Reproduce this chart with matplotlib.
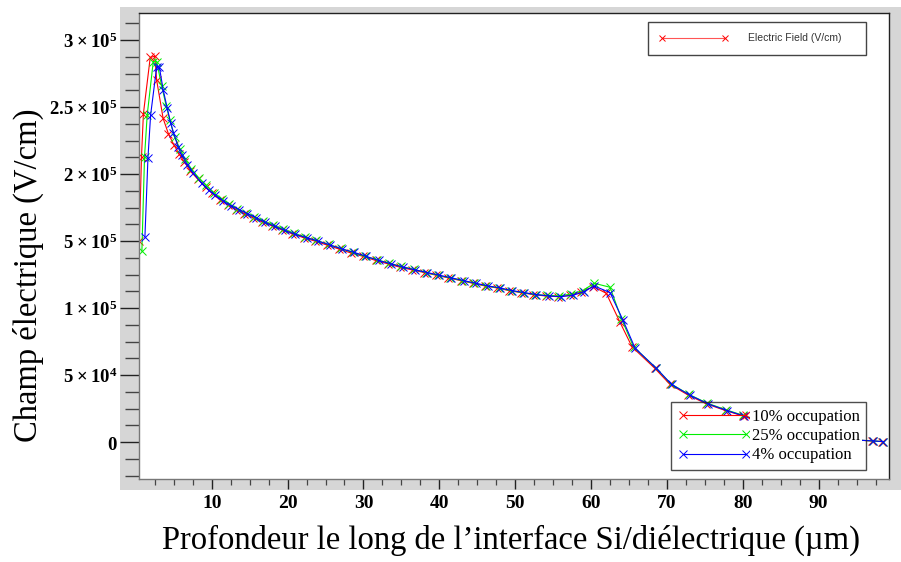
import matplotlib
matplotlib.use('Agg')
import numpy as np
import matplotlib.pyplot as plt
from matplotlib.patches import Rectangle
from matplotlib.lines import Line2D
from matplotlib.ticker import FixedLocator, FixedFormatter, MultipleLocator

# Electric field (V/cm) along the Si/dielectric interface (values in kV/cm)
x_10 = [0.45, 0.75, 1.0, 1.9, 2.5, 2.75, 3.6, 4.3, 5.0, 5.7, 6.4, 7.2, 8.2, 9.2, 10.1,
        11.1, 12.1, 13.2, 14.3, 15.4, 16.6, 17.9, 19.2, 20.6, 22.1, 23.6, 25.2, 26.8, 28.4, 30.0,
        31.6, 33.2, 34.8, 36.4, 38.0, 39.6, 41.2, 42.8, 44.4, 46.0, 47.6, 49.2, 50.8, 52.4, 54.0,
        55.6, 57.2, 58.7, 60.3, 62.0, 63.8, 65.4, 68.4, 70.4, 72.8, 75.2, 77.7, 80.0, 82.4, 84.9,
        87.4, 89.9, 92.4, 94.9, 97.0, 98.4]
E_10 = [150, 213, 245, 287, 288, 270, 241.5, 230, 222, 215, 209, 202.5, 196, 190, 185.5,
        181, 177, 173.5, 170.5, 167.5, 164.5, 161.5, 158.5, 155.5, 152.5, 150, 147, 144, 141, 138.5,
        135.5, 133, 130.5, 128.5, 126.5, 124.5, 122.5, 120.5, 118.5, 116.5, 115, 113, 111.5, 110, 109,
        108.5, 109.5, 112, 116, 111, 89.5, 71, 55, 43, 35, 28.5, 23.5, 19.5, 15, 11,
        7.5, 5, 3, 1.5, 0.8, 0.3]

x_25 = [0.8, 1.15, 1.5, 2.3, 2.75, 3.4, 4.0, 4.5, 5.1, 5.8, 6.5, 7.3, 8.3, 9.3, 10.3,
        11.3, 12.3, 13.4, 14.5, 15.6, 16.8, 18.1, 19.4, 20.8, 22.3, 23.8, 25.4, 27.0, 28.6, 30.2,
        31.8, 33.4, 35.0, 36.6, 38.2, 39.8, 41.4, 43.0, 44.6, 46.2, 47.8, 49.4, 51.0, 52.6, 54.2,
        55.8, 57.4, 58.9, 60.4, 62.5, 64.0, 65.6, 68.5, 70.5, 72.9, 75.3, 77.8, 80.0, 82.5, 85.0,
        87.5, 90.0, 92.5, 95.0, 97.1, 98.5]
E_25 = [142.5, 213, 244, 284, 284, 266, 251, 240, 228, 219, 211, 204, 197, 191.5, 186,
        181.5, 178, 174, 171, 168, 165, 162, 159, 156, 153, 150.5, 147.5, 144.5, 141.5, 138.5,
        136, 133.5, 131, 129, 126.5, 124.5, 122.5, 120.5, 118.5, 116.5, 115, 113, 111.5, 110, 109.5,
        109, 110.5, 113, 118.5, 115.5, 92, 71, 55.5, 43.5, 35.5, 29, 24, 20, 15.5, 11,
        7.5, 5, 3, 1.5, 0.8, 0.3]

x_4 = [1.2, 1.6, 1.95, 2.75, 3.1, 3.6, 4.15, 4.6, 4.95, 5.6, 6.05, 6.8, 7.6, 8.7, 9.6,
       10.5, 11.5, 12.5, 13.6, 14.7, 15.8, 17.0, 18.3, 19.6, 21.0, 22.5, 24.0, 25.6, 27.2, 28.8,
       30.4, 32.0, 33.6, 35.2, 36.8, 38.4, 40.0, 41.6, 43.2, 44.8, 46.4, 48.0, 49.6, 51.2, 52.8,
       54.4, 56.0, 57.6, 59.0, 60.4, 62.5, 64.2, 65.8, 68.6, 70.6, 73.0, 75.4, 77.9, 80.1, 82.5,
       85.0, 87.5, 90.0, 92.5, 95.0, 97.2, 98.5]
E_4 = [153, 212, 244, 280, 280, 263, 249, 238, 231, 220, 214, 207, 200.5, 193, 188,
       184, 180, 176.5, 173.5, 170.5, 167.5, 164, 161, 158, 155, 152.5, 150, 147, 144, 141.5,
       138.5, 135.5, 133, 130.5, 128.5, 126.5, 124.5, 122.5, 120.5, 118.5, 116.5, 115, 113, 111.5, 110,
       109, 108.5, 109.5, 112, 116.5, 111.5, 91, 70, 55, 43, 35, 28.5, 23.5, 19.5, 15,
       11, 7.5, 5, 3, 1.5, 0.8, 0.3]

series = [('10% occupation', x_10, E_10, '#ff0000'),
          ('25% occupation', x_25, E_25, '#00ee00'),
          ('4% occupation', x_4, E_4, '#0000ff')]

y_ticks = [0, 50000, 100000, 150000, 200000, 250000, 300000]
y_ticklabels = [r'$\mathbf{0}$', r'$\mathbf{5\times10^{4}}$', r'$\mathbf{1\times10^{5}}$',
                r'$\mathbf{5\times10^{5}}$', r'$\mathbf{2\times10^{5}}$',
                r'$\mathbf{2.5\times10^{5}}$', r'$\mathbf{3\times10^{5}}$']
x_ticks = [10, 20, 30, 40, 50, 60, 70, 80, 90]

plt.rcParams['mathtext.fontset'] = 'custom'
plt.rcParams['mathtext.rm'] = 'Liberation Serif'
plt.rcParams['mathtext.bf'] = 'Liberation Serif:bold'

W, H = 901, 562
fig = plt.figure(figsize=(W / 100, H / 100), dpi=100)
# gray frame around the plotting area
fig.patches.append(Rectangle((120 / W, 1 - 490 / H), (W - 120) / W, (490 - 7) / H,
                             transform=fig.transFigure, facecolor='#d6d6d6',
                             edgecolor='none', zorder=-10))
ax = fig.add_axes([139 / W, 1 - 479 / H, (889.3 - 139) / W, (479 - 13) / H])
ax.set_facecolor('white')

handles = []
for label, xs, ys, c in series:
    ln, = ax.plot(xs, np.array(ys) * 1000, color=c, lw=0.8, marker='x', ms=6,
                  mew=0.7, label=label)
    handles.append(ln)

ax.set_xlim(0.42, 99.3)
ax.set_ylim(-27600, 320200)

ax.yaxis.set_major_locator(FixedLocator(y_ticks))
ax.yaxis.set_major_formatter(FixedFormatter(y_ticklabels))
ax.yaxis.set_minor_locator(MultipleLocator(12500))
ax.xaxis.set_major_locator(FixedLocator(x_ticks))
ax.xaxis.set_minor_locator(MultipleLocator(2.5))

ax.tick_params(axis='y', which='major', direction='out', length=13.7, width=1.0,
               color='#222222', pad=2, labelsize=13.5)
ax.tick_params(axis='y', which='minor', direction='out', length=10, width=1.0, color='#444444')
ax.tick_params(axis='x', which='major', direction='out', length=7.2, width=1.0,
               color='#222222', pad=4, labelsize=14)
ax.tick_params(axis='x', which='minor', direction='out', length=4.3, width=0.9, color='#444444')
for t in ax.get_xticklabels():
    t.set_fontfamily('Liberation Serif')
    t.set_fontweight('bold')

for side in ['left', 'bottom']:
    ax.spines[side].set_color('#777777')
for side in ['top', 'right']:
    ax.spines[side].set_color('#222222')
for s in ax.spines.values():
    s.set_linewidth(1.0)

ax.set_xlabel('Profondeur le long de l’interface Si/diélectrique (µm)',
              fontfamily='Liberation Serif', fontsize=23.5, va='center')
ax.xaxis.set_label_coords(0.496, -0.131)
ax.set_ylabel('Champ électrique (V/cm)', fontfamily='Liberation Serif', fontsize=23.5,
              va='center')
ax.yaxis.set_label_coords(-0.147, 0.438)

# top legend: single "Electric Field" entry
dummy = Line2D([], [], color='#ff5555', lw=0.8, marker='x', ms=5, mew=0.7,
               markeredgecolor='#ff0000')
leg1 = ax.legend([dummy], ['Electric Field (V/cm)'], loc='upper left',
                 bbox_to_anchor=(0.678, 0.901, 0.291, 0.080), mode='expand',
                 borderaxespad=0, borderpad=1.1, handlelength=6.6, handletextpad=1.9,
                 numpoints=2, fancybox=False, framealpha=1, edgecolor='#444444',
                 prop={'family': 'Liberation Sans', 'size': 7.5})
leg1.get_frame().set_linewidth(1.0)
for t in leg1.get_texts():
    t.set_color('#333333')
ax.add_artist(leg1)

# bottom legend: frame is see-through, only the label texts mask the curves
leg2 = ax.legend(handles=handles, loc='lower left',
                 bbox_to_anchor=(0.709, 0.0193, 0.260, 0.15), mode='expand',
                 borderaxespad=0, borderpad=0.4, labelspacing=0.2, handlelength=4.4,
                 handletextpad=0.05, numpoints=2, fancybox=False,
                 edgecolor='#222222', prop={'family': 'Liberation Serif', 'size': 12})
leg2.get_frame().set_facecolor('none')
leg2.get_frame().set_linewidth(1.0)
for t in leg2.get_texts():
    t.set_bbox(dict(facecolor='white', edgecolor='none', pad=1.5))

fig.savefig('out.png', dpi=100, facecolor='white')
